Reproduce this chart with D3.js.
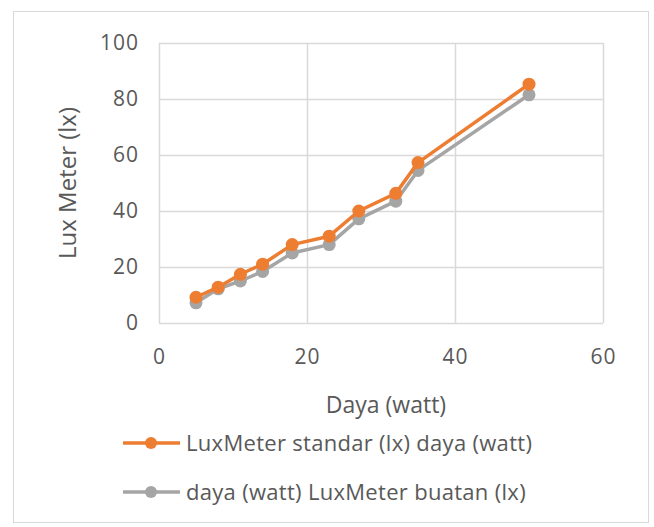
<!DOCTYPE html>
<html>
<head>
<meta charset="utf-8">
<script src="https://cdn.jsdelivr.net/npm/d3@7"></script>
<style>
  body { margin: 0; background: #fff; }
  text { font-family: "Open Sans", "Noto Sans", sans-serif; fill: #595959; }
</style>
</head>
<body>
<svg id="chart" width="654" height="527"></svg>
<script>
const daya = [5, 8, 11, 14, 18, 23, 27, 32, 35, 50];
const luxStandar = [9.2, 12.8, 17.4, 21, 28, 31, 40, 46.3, 57.3, 85.3];
const luxBuatan = [7.2, 12.2, 15, 18.4, 25, 28, 37.2, 43.5, 54.5, 81.5];
const xTicks = [0, 20, 40, 60];
const yTicks = [0, 20, 40, 60, 80, 100];

const series = [
  { name: "LuxMeter standar (lx) daya (watt)", values: luxStandar, color: "#ED7D31" },
  { name: "daya (watt) LuxMeter buatan (lx)", values: luxBuatan, color: "#A5A5A5" }
];

const svg = d3.select("#chart");
const margin = { left: 159, right: 51, top: 43, bottom: 204 };
const width = 654 - margin.left - margin.right;
const height = 527 - margin.top - margin.bottom;

// chart frame
svg.append("rect")
  .attr("x", 13.5).attr("y", 11.5)
  .attr("width", 635).attr("height", 511)
  .attr("fill", "#fff").attr("stroke", "#d9d9d9");

const x = d3.scaleLinear().domain([0, 60]).range([0, width]);
const y = d3.scaleLinear().domain([0, 100]).range([height, 0]);

const g = svg.append("g").attr("transform", `translate(${margin.left},${margin.top})`);

// gridlines
g.append("g").selectAll("line")
  .data(yTicks)
  .join("line")
  .attr("x1", 0).attr("x2", width)
  .attr("y1", d => Math.round(y(d)) + 0.5).attr("y2", d => Math.round(y(d)) + 0.5)
  .attr("stroke", "#d9d9d9").attr("stroke-width", 1.5);

g.append("g").selectAll("line")
  .data(xTicks)
  .join("line")
  .attr("y1", 0).attr("y2", height)
  .attr("x1", d => Math.round(x(d)) + 0.5).attr("x2", d => Math.round(x(d)) + 0.5)
  .attr("stroke", "#d9d9d9").attr("stroke-width", 1.5);

// axes labels
const xAxis = g.append("g")
  .attr("transform", `translate(0,${height})`)
  .call(d3.axisBottom(x).tickValues(xTicks).tickSize(0).tickPadding(26));
xAxis.select(".domain").remove();
xAxis.selectAll("text").attr("font-size", 21).attr("letter-spacing", 1).attr("fill", "#595959");

const yAxis = g.append("g")
  .call(d3.axisLeft(y).tickValues(yTicks).tickSize(0).tickPadding(20));
yAxis.select(".domain").remove();
yAxis.selectAll("text").attr("font-size", 21).attr("letter-spacing", 1).attr("fill", "#595959");

// axis titles
svg.append("text")
  .attr("x", 386).attr("y", 413)
  .attr("text-anchor", "middle").attr("font-size", 23)
  .text("Daya (watt)");

svg.append("text")
  .attr("transform", "translate(76,183) rotate(-90)")
  .attr("text-anchor", "middle").attr("font-size", 24)
  .text("Lux Meter (lx)");

// lines
const line = d3.line()
  .x((d, i) => x(daya[i]))
  .y(d => y(d));

// gray drawn first, orange on top
const drawOrder = [series[1], series[0]];
drawOrder.forEach(s => {
  g.append("path")
    .datum(s.values)
    .attr("fill", "none")
    .attr("stroke", s.color)
    .attr("stroke-width", 3.5)
    .attr("stroke-linejoin", "round")
    .attr("d", line);
  g.append("g").selectAll("circle")
    .data(s.values)
    .join("circle")
    .attr("cx", (d, i) => x(daya[i]))
    .attr("cy", d => y(d))
    .attr("r", 6.5)
    .attr("fill", s.color);
});

// legend
const legend = svg.append("g");
series.forEach((s, i) => {
  const ly = 443 + i * 49;
  legend.append("line")
    .attr("x1", 123).attr("x2", 180)
    .attr("y1", ly).attr("y2", ly)
    .attr("stroke", s.color).attr("stroke-width", 3.5);
  legend.append("circle")
    .attr("cx", 151).attr("cy", ly).attr("r", 6)
    .attr("fill", s.color);
  legend.append("text")
    .attr("x", 186).attr("y", ly)
    .attr("dy", "0.35em")
    .attr("font-size", 22)
    .attr("letter-spacing", 0.3)
    .text(s.name);
});
</script>
</body>
</html>
